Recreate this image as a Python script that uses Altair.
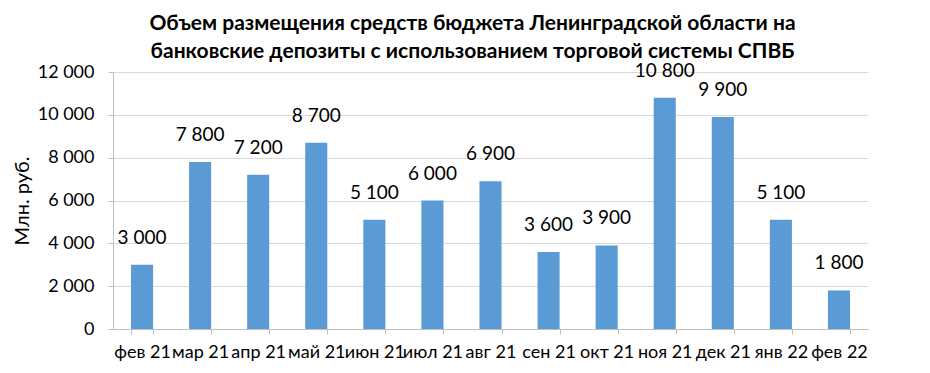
import altair as alt
import pandas as pd

months = ["фев 21", "мар 21", "апр 21", "май 21", "июн 21", "июл 21", "авг 21",
          "сен 21", "окт 21", "ноя 21", "дек 21", "янв 22", "фев 22"]
values = [3000, 7800, 7200, 8700, 5100, 6000, 6900, 3600, 3900, 10800, 9900, 5100, 1800]

df = pd.DataFrame({"month": months, "value": values})

FONT = "Lato"

x = alt.X("month:N", sort=months, title=None,
          scale=alt.Scale(paddingInner=0.62, paddingOuter=0.31),
          axis=alt.Axis(labelAngle=0, labelFontSize=18, labelColor="#000000", labelFont=FONT,
                        domainColor="#BFBFBF", tickColor="#BFBFBF", tickBand="extent",
                        tickSize=5, labelPadding=9))
y = alt.Y("value:Q", title="Млн. руб.",
          scale=alt.Scale(domain=[0, 12000]),
          axis=alt.Axis(values=list(range(0, 12001, 2000)),
                        labelExpr="replace(format(datum.value, ','), ',', ' ')",
                        labelFontSize=18, labelColor="#000000", labelFont=FONT,
                        titleFontSize=20, titleFont=FONT, titleFontWeight="normal",
                        titleColor="#000000", titlePadding=5,
                        domainColor="#BFBFBF", tickColor="#BFBFBF", tickSize=5,
                        gridColor="#D9D9D9", labelPadding=14))

bars = alt.Chart(df).mark_bar(color="#5B9BD5").encode(x=x, y=y)
labels = alt.Chart(df).transform_calculate(
    lab="replace(format(datum.value, ','), ',', ' ')"
).mark_text(baseline="bottom", dy=-17, fontSize=19, font=FONT, color="#000000").encode(
    x=alt.X("month:N", sort=months), y="value:Q", text="lab:N")

chart = (bars + labels).properties(
    width=755, height=257,
    autosize=alt.AutoSizeParams(type="none"),
    padding={"left": 105, "top": 64, "right": 10, "bottom": 40},
    title=alt.TitleParams(
        ["Объем размещения средств бюджета Ленинградской области на",
         "банковские депозиты с использованием торговой системы СПВБ"],
        fontSize=21, font=FONT, fontWeight="bold", color="#000000",
        lineHeight=28, anchor="middle", dx=-18, offset=0),
).configure_view(stroke=None)

chart.save("out.html", embed_options={"renderer": "svg", "actions": False})
